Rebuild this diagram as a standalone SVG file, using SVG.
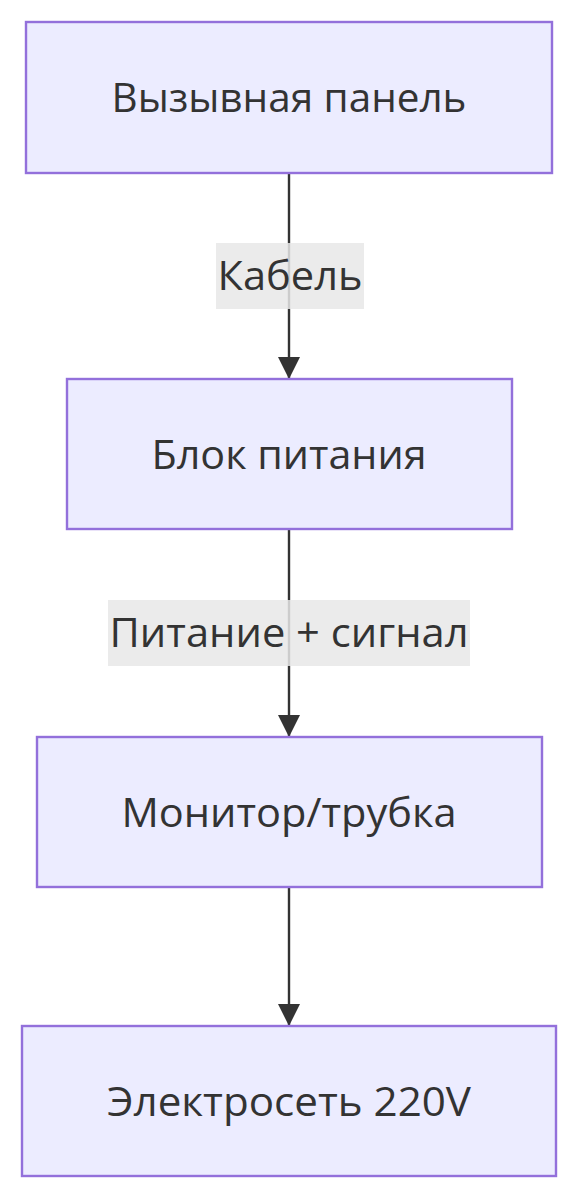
<svg xmlns="http://www.w3.org/2000/svg" width="579" height="1200" viewBox="0 0 579 1200">
<style>
.node rect{fill:#ECECFF;stroke:#9370DB;stroke-width:2.4}
text{font-family:"Open Sans","DejaVu Sans",sans-serif;font-size:40px;fill:#333;text-anchor:middle}
.edge{stroke:#333;stroke-width:2.4;fill:none}
.lbl{fill:#e8e8e8;opacity:0.85}
</style>
<defs>
<marker id="arrow" viewBox="0 0 22 22" refX="22" refY="11" markerWidth="22" markerHeight="22" markerUnits="userSpaceOnUse" orient="auto">
<path d="M0,0 L22,11 L0,22 z" fill="#333"/>
</marker>
</defs>
<rect width="579" height="1200" fill="#fff"/>
<g id="edges">
<line class="edge" x1="289" y1="173" x2="289" y2="379" marker-end="url(#arrow)"/>
<line class="edge" x1="289" y1="529" x2="289" y2="737" marker-end="url(#arrow)"/>
<line class="edge" x1="289" y1="887" x2="289" y2="1026" marker-end="url(#arrow)"/>
<g id="label1"><rect class="lbl" x="216" y="243" width="148" height="66"/><text x="290" y="290" textLength="145" lengthAdjust="spacingAndGlyphs">Кабель</text></g>
<g id="label2"><rect class="lbl" x="108" y="600" width="362" height="66"/><text x="289" y="647" textLength="359" lengthAdjust="spacingAndGlyphs">Питание + сигнал</text></g>
</g>
<g id="n1" class="node"><rect x="26" y="22" width="526" height="151"/><text x="289" y="112" textLength="355" lengthAdjust="spacingAndGlyphs">Вызывная панель</text></g>
<g id="n2" class="node"><rect x="67" y="379" width="445" height="150"/><text x="289" y="469" textLength="275" lengthAdjust="spacingAndGlyphs">Блок питания</text></g>
<g id="n3" class="node"><rect x="37" y="737" width="505" height="150"/><text x="289" y="827" textLength="335" lengthAdjust="spacingAndGlyphs">Монитор/трубка</text></g>
<g id="n4" class="node"><rect x="22" y="1026" width="534" height="150"/><text x="289" y="1116" textLength="364" lengthAdjust="spacingAndGlyphs">Электросеть 220V</text></g>
</svg>
